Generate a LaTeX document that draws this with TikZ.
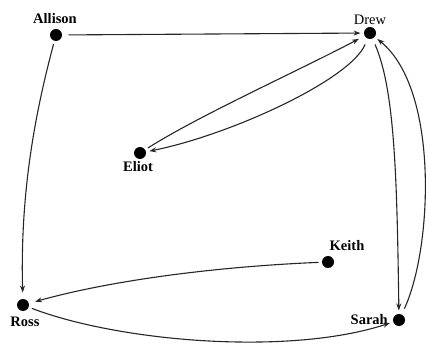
\documentclass[tikz,border=0pt]{standalone}
\usepackage{fontspec}
\setmainfont{Liberation Serif}
\usetikzlibrary{arrows.meta}
\begin{document}
\begin{tikzpicture}[x=1pt,y=-1pt,
  dot/.style={circle,fill=black,minimum size=12pt,inner sep=0pt,outer sep=3.5pt},
  lbl/.style={inner sep=0pt,font=\fontsize{14.5}{16}\selectfont},
  blbl/.style={lbl,font=\fontsize{14.5}{16}\selectfont\bfseries},
  edge/.style={line width=1.1pt,draw=black!85,-{Stealth[length=7pt,width=5pt]}}]
\useasboundingbox (0,0) rectangle (428,347);
% dots
\node[dot] (A) at (56,35) {};
\node[dot] (D) at (370,33) {};
\node[dot] (E) at (140,153) {};
\node[dot] (K) at (328,262) {};
\node[dot] (R) at (23,305) {};
\node[dot] (S) at (399,320) {};
% labels
\node[blbl] (lA) at (55,18.5) {Allison};
\node[lbl]  (lD) at (370,20) {Drew};
\node[blbl] (lE) at (138,167) {Eliot};
\node[blbl] (lK) at (347,246) {Keith};
\node[blbl] (lR) at (25,322) {Ross};
\node[blbl,anchor=east] (lS) at (388,319.5) {Sarah};
% edges
\draw[edge,shorten <=3pt] (A) -- (D);
\draw[edge,shorten >=3pt] (A) .. controls (36,110) and (20,190) .. (R);
\draw[edge,shorten >=3pt] (E) .. controls (200,115) and (300,70) .. (D);
\draw[edge,shorten <=3pt] (D) .. controls (350,80) and (230,135) .. (E);
\draw[edge,shorten <=3pt] (D) .. controls (395,90) and (397,180) .. (S);
\draw[edge,shorten <=3pt] (S) .. controls (432,250) and (440,90) .. (D);
\draw[edge,shorten >=3pt] (K) .. controls (230,266) and (120,278) .. (R);
\draw[edge] (R) .. controls (120,342) and (290,356) .. (S);
\end{tikzpicture}
\end{document}
